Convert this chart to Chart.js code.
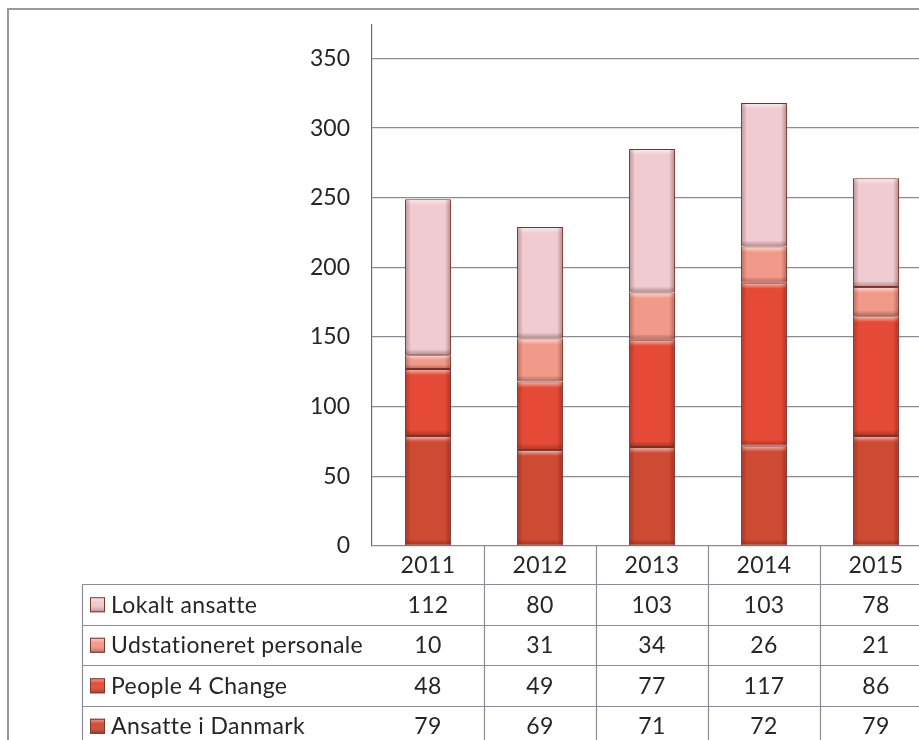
<!DOCTYPE html>
<html>
<head>
<meta charset="utf-8">
<script src="https://cdn.jsdelivr.net/npm/chart.js@4.4.1/dist/chart.umd.min.js"></script>
<style>
  html, body { margin: 0; padding: 0; background: #fff; overflow: hidden; }
  #frame {
    position: absolute; left: 7px; top: 8px; width: 960px; height: 800px;
    border-top: 2px solid #9a9a9a; border-left: 2px solid #9a9a9a;
  }
  #wrap { position: absolute; left: 0; top: 0; width: 932px; height: 760px; }
</style>
</head>
<body>
<div id="frame"></div>
<div id="wrap"><canvas id="chart"></canvas></div>
<script>
// --- Data ---
const years = ['2011', '2012', '2013', '2014', '2015'];
const lokaltAnsatte = [112, 80, 103, 103, 78];
const udstationeret = [10, 31, 34, 26, 21];
const people4Change = [48, 49, 77, 117, 86];
const ansatteDanmark = [79, 69, 71, 72, 79];
const yTicks = [0, 50, 100, 150, 200, 250, 300, 350];

// table rows are listed top-down, stack goes bottom-up
const tableRows = [
    { name: 'Lokalt ansatte', values: lokaltAnsatte, color: '#f0cbd1' },
    { name: 'Udstationeret personale', values: udstationeret, color: '#f29a8a' },
    { name: 'People 4 Change', values: people4Change, color: '#e54a36' },
    { name: 'Ansatte i Danmark', values: ansatteDanmark, color: '#cf4a33' }
];

const FONT = '23px Lato, "Open Sans", sans-serif';
const TEXT = '#262626';
const LINE = '#8a8a98';

// --- Bevel look on each bar segment ---
const bevelPlugin = {
    id: 'bevel',
    afterDatasetsDraw(chart) {
        const ctx = chart.ctx;
        chart.data.datasets.forEach((ds, di) => {
            chart.getDatasetMeta(di).data.forEach(bar => {
                const left = bar.x - bar.width / 2;
                const top = Math.min(bar.y, bar.base);
                const h = Math.abs(bar.base - bar.y);
                const w = bar.width;
                const e = Math.min(6, h / 3);
                ctx.save();
                let g = ctx.createLinearGradient(0, top, 0, top + e);
                g.addColorStop(0, 'rgba(255,255,255,0.65)');
                g.addColorStop(1, 'rgba(255,255,255,0)');
                ctx.fillStyle = g;
                ctx.fillRect(left + 1, top + 1, w - 2, e);
                g = ctx.createLinearGradient(0, top + h - e, 0, top + h);
                g.addColorStop(0, 'rgba(60,10,5,0)');
                g.addColorStop(1, 'rgba(60,10,5,0.35)');
                ctx.fillStyle = g;
                ctx.fillRect(left + 1, top + h - e, w - 2, e - 1);
                g = ctx.createLinearGradient(left, 0, left + 6, 0);
                g.addColorStop(0, 'rgba(60,10,5,0.3)');
                g.addColorStop(1, 'rgba(60,10,5,0)');
                ctx.fillStyle = g;
                ctx.fillRect(left + 1, top + 1, 6, h - 2);
                g = ctx.createLinearGradient(left + w - 6, 0, left + w, 0);
                g.addColorStop(0, 'rgba(60,10,5,0)');
                g.addColorStop(1, 'rgba(60,10,5,0.35)');
                ctx.fillStyle = g;
                ctx.fillRect(left + w - 7, top + 1, 6, h - 2);
                ctx.restore();
            });
        });
    }
};

// --- Data table under the plot ---
function drawKey(ctx, x, y, size, color) {
    ctx.fillStyle = color;
    ctx.fillRect(x, y, size, size);
    const g = ctx.createLinearGradient(0, y, 0, y + size);
    g.addColorStop(0, 'rgba(255,255,255,0.5)');
    g.addColorStop(0.35, 'rgba(255,255,255,0)');
    g.addColorStop(1, 'rgba(60,10,5,0.35)');
    ctx.fillStyle = g;
    ctx.fillRect(x, y, size, size);
    ctx.strokeStyle = '#7a3a30';
    ctx.lineWidth = 1;
    ctx.strokeRect(x + 0.5, y + 0.5, size - 1, size - 1);
}

const tablePlugin = {
    id: 'dataTable',
    afterDraw(chart) {
        const ctx = chart.ctx;
        const area = chart.chartArea;
        const xs = chart.scales.x;
        const colW = (area.right - area.left) / years.length;
        const headTop = area.bottom;
        const rowTop = 584;
        const rowH = 40.5;
        const tableLeft = 82;
        const bottom = chart.height;

        ctx.save();
        ctx.strokeStyle = LINE;
        ctx.lineWidth = 1.2;
        ctx.beginPath();
        // column separators
        for (let i = 1; i < years.length; i++) {
            const x = Math.round(area.left + i * colW) + 0.5;
            ctx.moveTo(x, headTop);
            ctx.lineTo(x, bottom);
        }
        // left border of label column
        ctx.moveTo(tableLeft + 0.5, rowTop);
        ctx.lineTo(tableLeft + 0.5, bottom);
        // row lines
        for (let r = 0; r <= tableRows.length; r++) {
            const y = Math.round(rowTop + r * rowH) + 0.5;
            ctx.moveTo(tableLeft, y);
            ctx.lineTo(area.right, y);
        }
        ctx.stroke();

        ctx.font = FONT;
        // a little spacing keeps Lato from joining "ti" into a ligature
        ctx.letterSpacing = '0.4px';
        ctx.fillStyle = TEXT;
        ctx.textBaseline = 'middle';
        ctx.textAlign = 'center';
        years.forEach((yr, i) => {
            ctx.fillText(yr, xs.getPixelForValue(i), (headTop + rowTop) / 2 + 1);
        });
        tableRows.forEach((row, r) => {
            const cy = rowTop + r * rowH + rowH / 2 + 1;
            ctx.textAlign = 'center';
            ctx.fillStyle = TEXT;
            row.values.forEach((v, i) => {
                ctx.fillText(String(v), xs.getPixelForValue(i), cy);
            });
            drawKey(ctx, 90, cy - 8, 15, row.color);
            ctx.textAlign = 'left';
            ctx.fillStyle = TEXT;
            ctx.fillText(row.name, 111, cy);
        });
        ctx.restore();
    }
};

const stackOrder = tableRows.slice().reverse();

new Chart(document.getElementById('chart'), {
    type: 'bar',
    data: {
        labels: years,
        datasets: stackOrder.map(row => ({
            label: row.name,
            data: row.values,
            backgroundColor: row.color,
            borderColor: '#7a3028',
            borderWidth: 1,
            borderSkipped: false,
            categoryPercentage: 1,
            barPercentage: 0.41
        }))
    },
    options: {
        responsive: true,
        maintainAspectRatio: false,
        animation: false,
        layout: { padding: { left: 0, right: 0, top: 25, bottom: 214 } },
        plugins: { legend: { display: false }, tooltip: { enabled: false } },
        scales: {
            x: {
                stacked: true,
                display: false
            },
            y: {
                stacked: true,
                min: 0,
                max: 374,
                afterBuildTicks(scale) {
                    scale.ticks = yTicks.map(v => ({ value: v }));
                },
                afterFit(scale) {
                    scale.width = 372;
                    // top label sits well below the axis top, no overhang needed
                    scale.paddingTop = 0;
                    scale.paddingBottom = 0;
                },
                grid: {
                    color: LINE,
                    lineWidth: 1.2,
                    drawTicks: false
                },
                border: { display: true, color: '#6e6e7a', width: 1.2 },
                ticks: {
                    padding: 22,
                    color: TEXT,
                    font: { family: 'Lato, "Open Sans", sans-serif', size: 23 }
                }
            }
        }
    },
    plugins: [bevelPlugin, tablePlugin]
});
</script>
</body>
</html>
